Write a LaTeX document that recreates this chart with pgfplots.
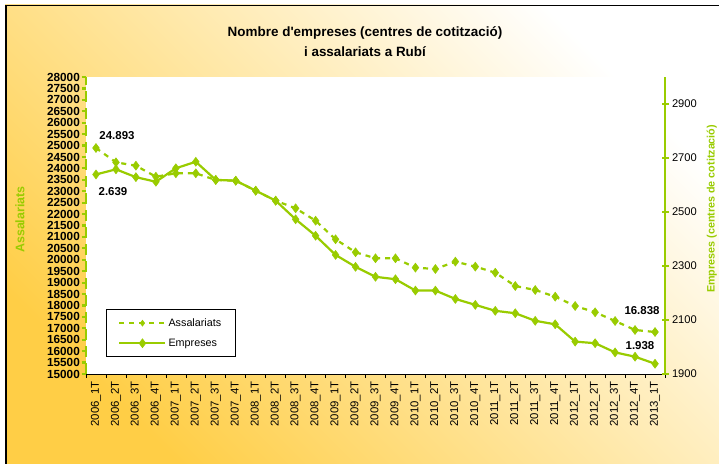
\documentclass[border=0pt]{standalone}
\usepackage{pgfplots}
\pgfplotsset{compat=1.18}
\usepackage{pgfplotstable}
\usepackage{fontspec}
\setmainfont{Liberation Sans}
\definecolor{lime}{RGB}{153,204,0}
\definecolor{bgorange}{RGB}{255,206,70}

\pgfplotstableread{
x ass emp
0 24893 2639
1 24265 2658
2 24118 2629
3 23636 2612
4 23785 2662
5 23785 2686
6 23492 2619
7 23461 2616
8 23023 2579
9 22585 2542
10 22253 2473
11 21710 2412
12 20896 2341
13 20327 2297
14 20064 2260
15 20064 2251
16 19655 2209
17 19596 2209
18 19918 2178
19 19700 2156
20 19435 2134
21 18852 2125
22 18677 2097
23 18385 2084
24 17978 2020
25 17702 2014
26 17320 1980
27 16926 1964
28 16838 1938
}\data

\pgfplotsset{
  common/.style={
    scale only axis, width=579bp, height=297bp,
    xmin=-0.5, xmax=28.5,
    at={(86bp,90bp)}, anchor=south west,
    scaled y ticks=false,
    /pgf/number format/assume math mode=true,
    /pgf/number format/set thousands separator={},
  },
}

\begin{document}
\begin{tikzpicture}
\path[use as bounding box] (0,0) rectangle (719bp,464bp);
\shade[bottom color=bgorange, top color=white, shading angle=-45] (5bp,0) rectangle (719bp,459bp);
\draw[black, line width=1.5bp] (5.75bp,0) -- (5.75bp,458.25bp) -- (719bp,458.25bp);

\node[align=center, font=\fontsize{13.5}{20}\bfseries\selectfont] at (365bp,422bp)
  {Nombre d\textquotesingle empreses (centres de cotització)\\ i assalariats a Rubí};

\begin{axis}[common,
  axis background/.style={fill=white},
  axis x line*=bottom, axis y line*=left,
  ymin=15000, ymax=28000, ytick={15000,15500,...,28000},
  xtick={0,...,28},
  xticklabels={2006\_1T,2006\_2T,2006\_3T,2006\_4T,2007\_1T,2007\_2T,2007\_3T,2007\_4T,2008\_1T,2008\_2T,2008\_3T,2008\_4T,2009\_1T,2009\_2T,2009\_3T,2009\_4T,2010\_1T,2010\_2T,2010\_3T,2010\_4T,2011\_1T,2011\_2T,2011\_3T,2011\_4T,2012\_1T,2012\_2T,2012\_3T,2012\_4T,2013\_1T},
  major x tick style={draw=none},
  minor xtick={-0.5,0.5,...,28.5},
  minor x tick style={black, line width=0.6bp},
  minor tick length=4bp,
  major tick length=4bp,
  tick align=outside,
  x axis line style={black, line width=0.8bp, -},
  y axis line style={lime, line width=2.2bp, dash pattern=on 11bp off 6bp, -},
  ytick style={lime, line width=2.2bp},
  yticklabel style={font=\fontsize{11.8}{12}\bfseries\selectfont, black, inner xsep=2bp},
  xticklabel style={rotate=90, anchor=east, font=\fontsize{11.4}{12}\selectfont},
  ylabel={Assalariats},
  ylabel style={lime, font=\fontsize{12.5}{14}\bfseries\selectfont, at={(axis description cs:-0.114,0.52)}, anchor=center},
]
\addplot[lime, line width=2.2bp, dash pattern=on 5bp off 5bp, mark=diamond*, mark size=4.5bp, mark options={solid, fill=lime, line width=0.5bp}] table[x=x,y=ass]{\data};
\node[font=\fontsize{11.5}{13}\bfseries\selectfont] at (axis cs:0,24893) [xshift=21bp, yshift=12bp] {24.893};
\node[font=\fontsize{11.5}{13}\bfseries\selectfont] at (axis cs:28,16838) [xshift=-13bp, yshift=21bp] {16.838};
\end{axis}

\begin{axis}[common,
  axis x line=none, axis y line*=right,
  ymin=1900, ymax=3000, ytick={1900,2100,...,2900},
  y axis line style={lime, line width=2bp, -},
  ytick style={lime, line width=1.5bp},
  tick align=center, major tick length=7bp,
  yticklabel style={font=\fontsize{11.2}{12}\selectfont, black},
  ylabel={Empreses (centres de cotització)},
  ylabel style={lime, font=\fontsize{10.8}{12}\bfseries\selectfont, at={(axis description cs:1.081,0.556)}, anchor=center},
  legend image code/.code={\draw[mark repeat=2,mark phase=2] plot coordinates {(0bp,0bp) (23bp,0bp) (46bp,0bp)};},
  legend style={at={(axis description cs:0.0345,0.057)}, anchor=south west, draw=black, line width=0.8bp, fill=white, font=\fontsize{10.8}{12}\selectfont, row sep=7bp, inner xsep=12bp, inner ysep=7bp},
  legend cell align=left,
]
\addlegendimage{lime, line width=2.2bp, dash pattern=on 5bp off 5bp, mark=diamond*, mark size=3bp, mark options={solid, fill=lime, line width=0.5bp}}
\addlegendentry{Assalariats}
\addplot[lime, line width=2.2bp, mark=diamond*, mark size=4.5bp, mark options={solid, fill=lime, line width=0.5bp}] table[x=x,y=emp]{\data};
\addlegendentry{Empreses}
\node[font=\fontsize{11.5}{13}\bfseries\selectfont] at (axis cs:0,2639) [xshift=17bp, yshift=-17bp] {2.639};
\node[font=\fontsize{11.5}{13}\bfseries\selectfont] at (axis cs:28,1938) [xshift=-15bp, yshift=18bp] {1.938};
\end{axis}
\end{tikzpicture}
\end{document}
